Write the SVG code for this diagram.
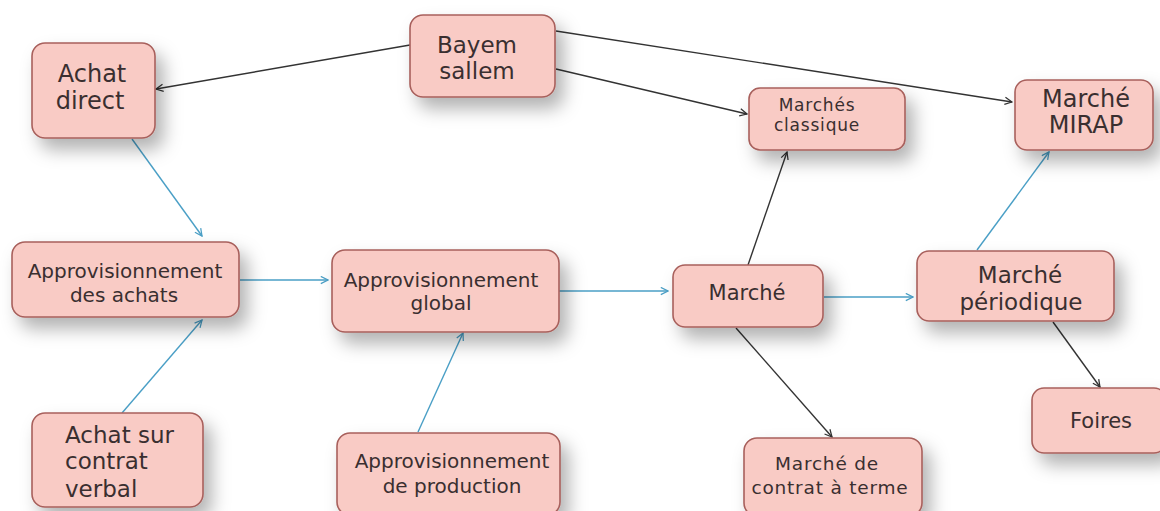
<svg xmlns="http://www.w3.org/2000/svg" width="1160" height="511" viewBox="0 0 1160 511">
<style>
.box{fill:#f9cbc5;stroke:#a8605c;stroke-width:1.6;filter:url(#sh)}
text{font-family:"DejaVu Sans","Liberation Sans",sans-serif;fill:#3a2f30;text-anchor:middle}
.l{text-anchor:start}
.k{stroke:#333;stroke-width:1.4;fill:none;marker-end:url(#ak)}
.b{stroke:#4a9fc6;stroke-width:1.4;fill:none;marker-end:url(#ab)}
</style>
<defs>
<filter id="sh" x="-30%" y="-30%" width="170%" height="190%">
<feDropShadow dx="8" dy="11" stdDeviation="9" flood-color="#000" flood-opacity="0.3"/>
</filter>
<marker id="ak" viewBox="0 0 10 10" refX="9" refY="5" markerWidth="9" markerHeight="9" markerUnits="userSpaceOnUse" orient="auto">
<path d="M1,1 L9,5 L1,9" fill="none" stroke="#333" stroke-width="1.4"/>
</marker>
<marker id="ab" viewBox="0 0 10 10" refX="9" refY="5" markerWidth="9" markerHeight="9" markerUnits="userSpaceOnUse" orient="auto">
<path d="M1,1 L9,5 L1,9" fill="none" stroke="#4a9fc6" stroke-width="1.4"/>
</marker>
</defs>
<rect width="1160" height="511" fill="#fff"/>

<g id="connectors">
<line class="k" x1="410" y1="45" x2="156" y2="89"/>
<line class="k" x1="556" y1="69" x2="747" y2="114"/>
<line class="k" x1="556" y1="31" x2="1012" y2="102"/>
<line class="k" x1="748" y1="265" x2="787" y2="152"/>
<line class="k" x1="736" y1="328" x2="832" y2="437"/>
<line class="k" x1="1053" y1="322" x2="1100" y2="387"/>
<line class="b" x1="132" y1="139" x2="202" y2="236"/>
<line class="b" x1="122" y1="413" x2="202" y2="320"/>
<line class="b" x1="240" y1="280" x2="328" y2="280"/>
<line class="b" x1="418" y1="432" x2="463" y2="333"/>
<line class="b" x1="556" y1="291" x2="668" y2="291"/>
<line class="b" x1="824" y1="297" x2="913" y2="297"/>
<line class="b" x1="977" y1="250" x2="1049" y2="152"/>
</g>

<g id="achat-direct">
<rect class="box" x="32" y="43" width="123" height="95" rx="13"/>
<text x="92" y="82" font-size="24">Achat</text>
<text x="90" y="109" font-size="24">direct</text>
</g>

<g id="bayem-sallem">
<rect class="box" x="410" y="15" width="145" height="82" rx="13"/>
<text x="477" y="53" font-size="23">Bayem</text>
<text x="477" y="79" font-size="23">sallem</text>
</g>

<g id="marches-classique">
<rect class="box" x="749" y="88" width="156" height="62" rx="11"/>
<text x="817" y="111" font-size="17" letter-spacing="0.8">Marchés</text>
<text x="817" y="131" font-size="17" letter-spacing="0.8">classique</text>
</g>

<g id="marche-mirap">
<rect class="box" x="1015" y="80" width="138" height="70" rx="12"/>
<text x="1086" y="107" font-size="24">Marché</text>
<text x="1086" y="133" font-size="24">MIRAP</text>
</g>

<g id="appro-achats">
<rect class="box" x="12" y="242" width="227" height="75" rx="13"/>
<text x="125" y="278" font-size="20">Approvisionnement</text>
<text x="124" y="302" font-size="20">des achats</text>
</g>

<g id="appro-global">
<rect class="box" x="332" y="250" width="227" height="82" rx="13"/>
<text x="441" y="287" font-size="20">Approvisionnement</text>
<text x="441" y="310" font-size="20">global</text>
</g>

<g id="marche">
<rect class="box" x="673" y="265" width="150" height="62" rx="12"/>
<text x="747" y="300" font-size="21">Marché</text>
</g>

<g id="marche-periodique">
<rect class="box" x="917" y="251" width="197" height="70" rx="12"/>
<text x="1020" y="283" font-size="23">Marché</text>
<text x="1021" y="310" font-size="23">périodique</text>
</g>

<g id="foires">
<rect class="box" x="1032" y="388" width="134" height="65" rx="12"/>
<text x="1101" y="428" font-size="21">Foires</text>
</g>

<g id="achat-contrat-verbal">
<rect class="box" x="32" y="413" width="171" height="94" rx="13"/>
<text class="l" x="65" y="443" font-size="23">Achat sur</text>
<text class="l" x="65" y="469" font-size="23">contrat</text>
<text class="l" x="65" y="497" font-size="23">verbal</text>
</g>

<g id="appro-production">
<rect class="box" x="337" y="433" width="223" height="82" rx="13"/>
<text x="452" y="468" font-size="20">Approvisionnement</text>
<text x="452" y="493" font-size="20">de production</text>
</g>

<g id="marche-terme">
<rect class="box" x="744" y="438" width="178" height="78" rx="13"/>
<text x="827" y="470" font-size="18.5" letter-spacing="0.8">Marché de</text>
<text x="830" y="494" font-size="18.5" letter-spacing="0.8">contrat à terme</text>
</g>
</svg>
